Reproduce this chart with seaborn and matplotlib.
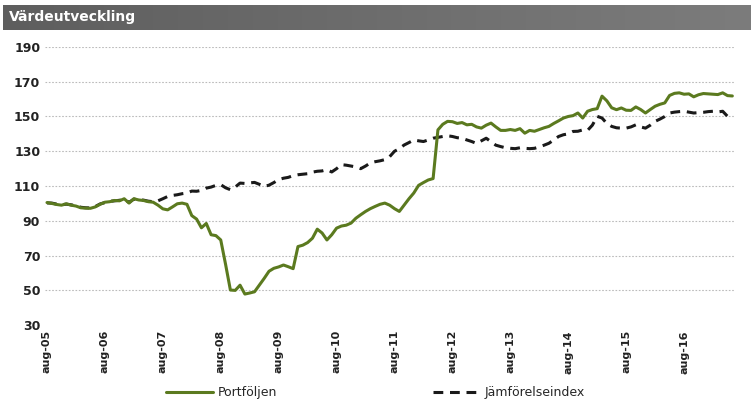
import numpy as np
import pandas as pd
import matplotlib
matplotlib.use("Agg")
import matplotlib.pyplot as plt
import seaborn as sns

# months since aug-05
months = list(range(0, 143))

portfoljen = [
    100.5, 100.0, 99.4, 99.0, 99.8, 99.0, 98.5, 97.5, 97.3, 97.2,
    98.0, 99.5, 100.7, 101.0, 101.7, 101.5, 102.7, 100.2, 102.7, 102.0,
    101.7, 101.0, 100.7, 99.0, 96.9, 96.3, 98.0, 99.8, 100.2, 99.5,
    93.0, 91.0, 86.0, 88.5, 82.0, 81.5, 79.0, 65.0, 50.2, 50.0,
    53.0, 47.9, 48.5, 49.2, 53.0, 56.9, 61.0, 62.7, 63.5, 64.6,
    63.6, 62.5, 75.2, 76.0, 77.5, 80.0, 85.2, 83.0, 79.0, 82.0,
    85.8, 87.0, 87.5, 88.7, 91.5, 93.5, 95.4, 97.0, 98.3, 99.5,
    100.2, 99.0, 97.0, 95.4, 99.0, 102.7, 106.0, 110.4, 112.0, 113.5,
    114.3, 142.3, 145.5, 147.2, 147.0, 146.0, 146.5, 145.2, 145.5, 144.0,
    143.3, 145.0, 146.2, 144.0, 142.0, 142.0, 142.5, 142.0, 143.0, 140.4,
    142.0, 141.5, 142.5, 143.5, 144.3, 146.0, 147.5, 149.1, 150.0, 150.5,
    152.0, 149.1, 153.0, 154.0, 154.5, 161.7, 159.0, 155.0, 153.9, 154.9,
    153.6, 153.5, 155.5, 154.0, 152.0, 154.0, 155.9, 157.0, 157.8, 162.1,
    163.3, 163.6, 162.8, 163.0, 161.3, 162.5, 163.2, 163.0, 162.8, 162.6,
    163.6, 162.0, 161.8,
]

jamforelseindex = [
    100.3, 100.2, 99.6, 99.2, 99.6, 99.2, 98.7, 97.8, 97.5, 97.4,
    98.2, 99.7, 100.5, 101.2, 101.5, 101.8, 102.4, 100.6, 102.5, 102.2,
    101.9, 101.3, 101.0, 101.5, 102.7, 104.0, 104.6, 105.0, 105.6, 106.0,
    107.1, 107.0, 107.5, 108.8, 109.4, 110.4, 110.8, 109.0, 107.9, 109.4,
    111.7, 111.5, 111.8, 112.1, 111.0, 109.8, 110.5, 112.0, 113.7, 114.5,
    115.0, 116.0, 116.5, 116.8, 117.1, 118.0, 118.5, 118.7, 119.4, 118.1,
    120.0, 122.3, 122.0, 121.5, 121.0, 120.0, 121.5, 123.3, 124.0, 124.5,
    125.2, 126.9, 130.0, 131.5, 133.6, 135.0, 136.5, 136.0, 135.6, 136.5,
    137.5, 138.0, 138.5, 138.9, 138.5, 137.8, 137.5, 136.5, 135.6, 134.5,
    136.0, 137.5, 135.5, 133.5, 132.7, 132.0, 131.7, 131.5, 132.0, 131.7,
    131.5, 131.7, 132.5, 133.5, 134.6, 136.5, 138.5, 139.5, 140.0, 141.4,
    141.5, 142.3, 142.0, 145.0, 150.1, 149.1, 146.0, 144.3, 143.5, 143.3,
    143.3, 144.0, 145.2, 144.0, 143.3, 145.0, 147.2, 148.5, 150.0, 152.0,
    152.5, 152.8, 153.0, 152.5, 152.0, 152.2, 152.4, 152.8, 153.0, 152.6,
    153.0, 150.1, 148.0,
]

tick_months = list(range(0, 133, 12))
tick_labels = ["aug-05", "aug-06", "aug-07", "aug-08", "aug-09", "aug-10",
               "aug-11", "aug-12", "aug-13", "aug-14", "aug-15", "aug-16"]
y_ticks = [30, 50, 70, 90, 110, 130, 150, 170, 190]

df = pd.DataFrame({"month": months, "Portföljen": portfoljen,
                   "Jämförelseindex": jamforelseindex})

sns.set_style("white")
plt.rcParams["font.family"] = ["DejaVu Sans"]

fig = plt.figure(figsize=(7.51, 4.08), dpi=100)
ax = fig.add_axes([0.060, 0.203, 0.919, 0.682])

green = "#5b7a1f"
sns.lineplot(data=df, x="month", y="Jämförelseindex", ax=ax, color="#1a1a1a",
             linewidth=2.2, label="Jämförelseindex")
ax.lines[-1].set_dashes([3.2, 2.2])
sns.lineplot(data=df, x="month", y="Portföljen", ax=ax, color=green,
             linewidth=2.2, label="Portföljen")

ax.set_xlim(-0.4, 142.6)
ax.set_ylim(30, 190)
ax.set_yticks(y_ticks)
ax.set_xticks(tick_months)
ax.set_xticklabels(tick_labels, rotation=90)
ax.tick_params(axis="both", length=0, labelcolor="#222222")
for lab in ax.get_yticklabels():
    lab.set_fontsize(9)
    lab.set_fontweight("bold")
for lab in ax.get_xticklabels():
    lab.set_fontsize(8)
    lab.set_fontweight("bold")
ax.set_xlabel("")
ax.set_ylabel("")
ax.yaxis.grid(True, color="#bbbbbb", linestyle=(0, (1.5, 1.5)), linewidth=0.8)
ax.yaxis.get_gridlines()[0].set_visible(False)
sns.despine(ax=ax, left=True, bottom=True)

# legend at the bottom, green first
handles, labels = ax.get_legend_handles_labels()
ax.get_legend().remove()
order = [1, 0]
fig.legend([handles[i] for i in order], [labels[i] for i in order],
           loc="center", bbox_to_anchor=(0.50, 0.037), ncol=2, frameon=False,
           fontsize=9, handlelength=3.7, handletextpad=0.4, columnspacing=12.5)

# title bar
bar = fig.add_axes([0.004, 1 - 30 / 408, 0.996, 25 / 408])
grad = np.linspace(0, 1, 256).reshape(1, -1)
cmap = matplotlib.colors.LinearSegmentedColormap.from_list("bar", ["#5e5e5e", "#7c7c7c"])
bar.imshow(grad, aspect="auto", cmap=cmap, extent=[0, 1, 0, 1])
bar.set_axis_off()
bar.text(0.008, 0.5, "Värdeutveckling", color="white", fontsize=10,
         fontweight="bold", va="center", ha="left", transform=bar.transAxes)

fig.savefig("out.png", dpi=100)
